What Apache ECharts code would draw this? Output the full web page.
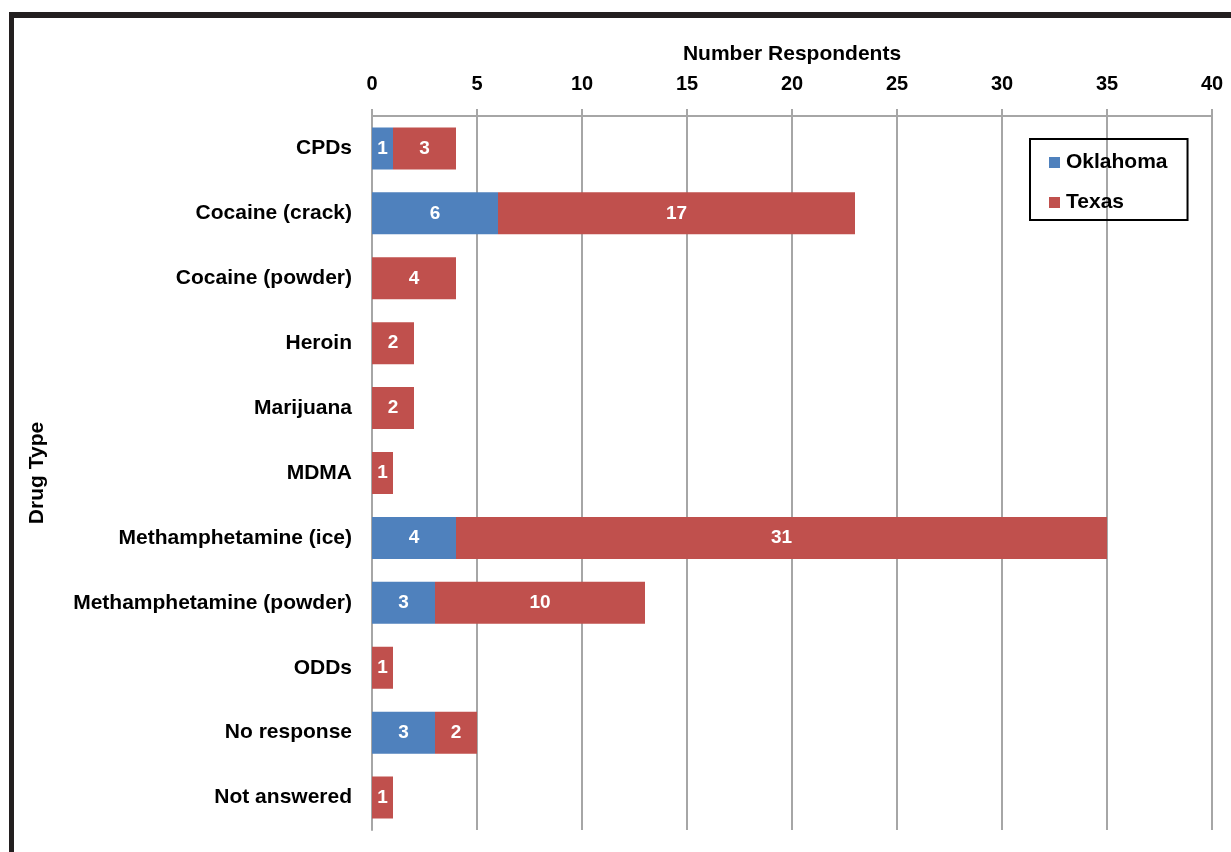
<!DOCTYPE html>
<html>
<head>
<meta charset="utf-8">
<script src="https://cdn.jsdelivr.net/npm/echarts@6/dist/echarts.min.js"></script>
<style>
  html, body { margin: 0; padding: 0; background: #fff; }
  #chart { width: 1231px; height: 852px; }
</style>
</head>
<body>
<div id="chart"></div>
<script>
// Drug types reported by respondents, top to bottom
const categories = [
  'CPDs', 'Cocaine (crack)', 'Cocaine (powder)', 'Heroin', 'Marijuana', 'MDMA',
  'Methamphetamine (ice)', 'Methamphetamine (powder)', 'ODDs', 'No response', 'Not answered'
];
const oklahoma = [1, 6, 0, 0, 0, 0, 4, 3, 0, 3, 0];
const texas    = [3, 17, 4, 2, 2, 1, 31, 10, 1, 2, 1];
const xTicks = [0, 5, 10, 15, 20, 25, 30, 35, 40];

const FONT = '"Liberation Sans", Arial, sans-serif';
const GRID_COLOR = '#a6a6a6';
const TEXT_SIZE = 21;

const chart = echarts.init(document.getElementById('chart'), null, { renderer: 'canvas' });

const barLabel = {
  show: true,
  position: 'inside',
  color: '#fff',
  fontFamily: FONT,
  fontWeight: 'bold',
  fontSize: 19,
  formatter: p => (p.value > 0 ? String(p.value) : '')
};

chart.setOption({
  animation: false,
  backgroundColor: '#fff',
  textStyle: { fontFamily: FONT },
  graphic: [
    // dark frame on the top and left edges
    { type: 'rect', shape: { x: 9, y: 12, width: 1222, height: 6 }, style: { fill: '#231f20' } },
    { type: 'rect', shape: { x: 9, y: 12, width: 5, height: 840 }, style: { fill: '#231f20' } }
  ],
  grid: { left: 372, right: 19, top: 116, bottom: 22, containLabel: false },
  legend: {
    orient: 'vertical',
    left: 1030,
    top: 139,
    data: ['Oklahoma', 'Texas'],
    icon: 'rect',
    itemWidth: 11,
    itemHeight: 11,
    itemGap: 19,
    padding: [13, 20, 7, 19],
    borderColor: '#000',
    borderWidth: 2,
    textStyle: { fontFamily: FONT, fontWeight: 'bold', fontSize: TEXT_SIZE, color: '#000', padding: [0, 0, 0, 1] }
  },
  xAxis: {
    type: 'value',
    position: 'top',
    min: 0,
    max: 40,
    interval: 5,
    name: 'Number Respondents',
    nameLocation: 'middle',
    nameGap: 51,
    nameTextStyle: { fontFamily: FONT, fontWeight: 'bold', fontSize: TEXT_SIZE, color: '#000' },
    axisLine: { show: true, lineStyle: { color: GRID_COLOR, width: 2 } },
    axisTick: { show: true, length: 7, lineStyle: { color: GRID_COLOR, width: 2 } },
    axisLabel: {
      margin: 22,
      fontFamily: FONT, fontWeight: 'bold', fontSize: 20, color: '#000',
      formatter: v => (xTicks.includes(v) ? String(v) : '')
    },
    splitLine: { show: true, lineStyle: { color: GRID_COLOR, width: 2 } }
  },
  yAxis: {
    type: 'category',
    inverse: true,
    data: categories,
    name: 'Drug Type',
    nameLocation: 'middle',
    nameGap: 324,
    nameRotate: 90,
    nameTextStyle: { fontFamily: FONT, fontWeight: 'bold', fontSize: TEXT_SIZE, color: '#000' },
    axisLine: { show: true, lineStyle: { color: GRID_COLOR, width: 2 } },
    axisTick: { show: false },
    axisLabel: { margin: 20, fontFamily: FONT, fontWeight: 'bold', fontSize: TEXT_SIZE, color: '#000' },
    splitLine: { show: false }
  },
  series: [
    {
      name: 'Oklahoma', type: 'bar', stack: 'total', data: oklahoma,
      barWidth: 42, itemStyle: { color: '#4f81bd' }, label: barLabel
    },
    {
      name: 'Texas', type: 'bar', stack: 'total', data: texas,
      barWidth: 42, itemStyle: { color: '#c0504d' }, label: barLabel
    }
  ]
});
</script>
</body>
</html>
